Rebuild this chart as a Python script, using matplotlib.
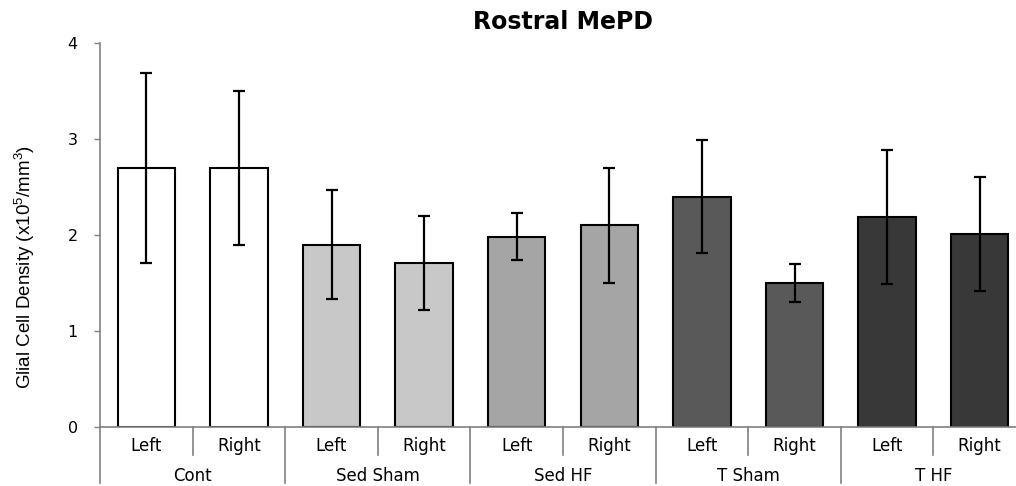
import matplotlib
matplotlib.use("Agg")
import matplotlib.pyplot as plt
import matplotlib.transforms as mtransforms
import numpy as np

groups = ["Cont", "Sed Sham", "Sed HF", "T Sham", "T HF"]
sides = ["Left", "Right"]
means = [2.70, 2.70, 1.90, 1.71, 1.98, 2.10, 2.40, 1.50, 2.19, 2.01]
errors = [0.99, 0.80, 0.565, 0.49, 0.245, 0.60, 0.585, 0.20, 0.70, 0.59]
group_colors = ["#ffffff", "#c8c8c8", "#a5a5a5", "#595959", "#383838"]
yticks = [0, 1, 2, 3, 4]
title = "Rostral MePD"
ylabel = "Glial Cell Density (x10$^{5}$/mm$^{3}$)"

plt.rcParams['mathtext.fontset'] = 'custom'
plt.rcParams['mathtext.rm'] = 'Liberation Sans'
plt.rcParams['mathtext.it'] = 'Liberation Sans:italic'

fig = plt.figure(figsize=(10.16, 4.86), dpi=100)
ax = fig.add_axes([100/1016, 59/486, 926/1016, 384/486])

n = len(means)
x = np.arange(n)
colors = [group_colors[i // 2] for i in range(n)]
ax.bar(x, means, width=0.62, color=colors, edgecolor="black", linewidth=1.5, zorder=2)
ax.errorbar(x, means, yerr=errors, fmt="none", ecolor="black", elinewidth=1.6,
            capsize=4, capthick=1.6, zorder=3)

ax.set_xlim(-0.5, n - 0.5)
ax.set_ylim(0, 4)
ax.set_yticks(yticks)
ax.set_yticklabels([str(t) for t in yticks], fontsize=11.5, family="DejaVu Sans")
ax.tick_params(axis="y", direction="out", length=4, width=1, color="#808080", pad=12)

ax.set_xticks(x)
ax.set_xticklabels([sides[i % 2] for i in range(n)], fontsize=12, family="DejaVu Sans")
ax.tick_params(axis="x", length=0, pad=7)

for s in ["top", "right"]:
    ax.spines[s].set_visible(False)
for s in ["left", "bottom"]:
    ax.spines[s].set_color("#808080")
    ax.spines[s].set_linewidth(1.2)

trans = mtransforms.blended_transform_factory(ax.transData, ax.transAxes)
# short separators between Left/Right
for g in range(len(groups)):
    xs = 2 * g + 0.5
    ax.plot([xs, xs], [0, -0.073], transform=trans, color="#808080", lw=1.2, clip_on=False)
# long separators between groups
for g in range(len(groups) + 1):
    xs = 2 * g - 0.5
    ax.plot([xs, xs], [0, -0.146], transform=trans, color="#808080", lw=1.2, clip_on=False)
# group labels
for g, name in enumerate(groups):
    ax.text(2 * g + 0.5, -0.128, name, transform=trans, ha="center", va="center",
            fontsize=12, family="DejaVu Sans")

ax.set_ylabel(ylabel, fontsize=13.5, family="Liberation Sans")
ax.yaxis.set_label_coords(-0.068, 0.417)

ax.text(0.5, 1.055, title, transform=ax.transAxes, ha="center", va="center",
        fontsize=17, fontweight="bold", family="DejaVu Sans")

fig.savefig("out.png", dpi=100)
